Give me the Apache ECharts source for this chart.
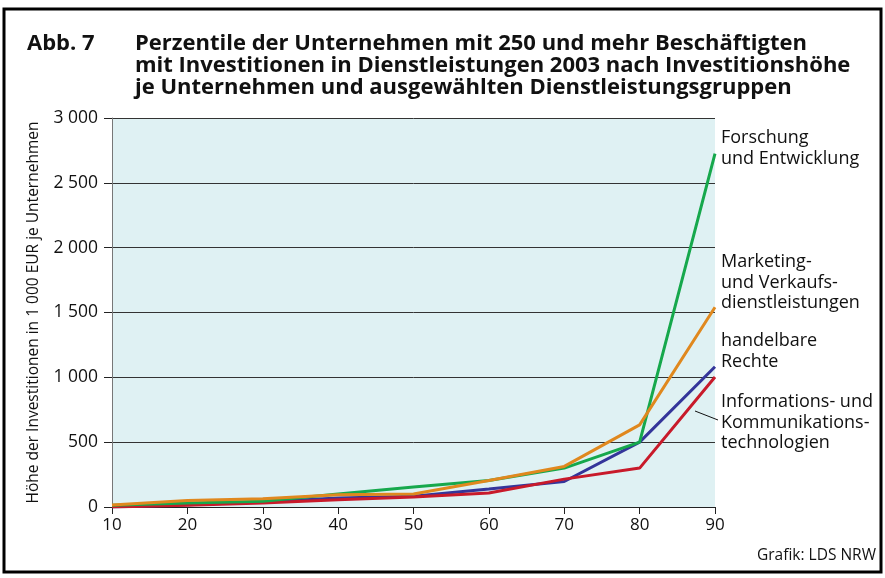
<!DOCTYPE html>
<html>
<head>
<meta charset="utf-8">
<script src="https://cdn.jsdelivr.net/npm/echarts@6/dist/echarts.min.js"></script>
<style>
  html, body { margin: 0; padding: 0; background: #fff; }
  #chart { width: 885px; height: 578px; }
</style>
</head>
<body>
<div id="chart"></div>
<script>
// Perzentile (x-Achse)
var percentiles = ["10", "20", "30", "40", "50", "60", "70", "80", "90"];
// Werte in 1 000 EUR je Unternehmen
var forschung   = [13, 30, 44, 100, 154, 205, 300, 500, 2725];
var marketing   = [15, 50, 64, 95, 100, 205, 313, 633, 1540];
var handelbare  = [0, 18, 38, 69, 82, 138, 197, 500, 1082];
var iuk         = [0, 13, 31, 56, 77, 108, 215, 300, 1003];

var seriesNames = ["handelbare Rechte", "Informations- und Kommunikationstechnologien",
                   "Forschung und Entwicklung", "Marketing- und Verkaufsdienstleistungen"];

var sans = "'Open Sans', 'Noto Sans', sans-serif";

var myChart = echarts.init(document.getElementById("chart"));

function line(name, data, color) {
  return {
    name: name,
    type: "line",
    data: data,
    symbol: "none",
    lineStyle: { width: 3, color: color },
    itemStyle: { color: color }
  };
}

var option = {
  backgroundColor: "#ffffff",
  animation: false,
  title: [
    {
      text: "Abb. 7",
      left: 22, top: 28,
      textStyle: { fontFamily: sans, fontSize: 22, fontWeight: "bold", color: "#111" }
    },
    {
      text: "Perzentile der Unternehmen mit 250 und mehr Beschäftigten\nmit Investitionen in Dienstleistungen 2003 nach Investitionshöhe\nje Unternehmen und ausgewählten Dienstleistungsgruppen",
      left: 130, top: 28,
      textStyle: { fontFamily: sans, fontSize: 22, fontWeight: "bold", color: "#111", lineHeight: 22 }
    }
  ],
  grid: { left: 112, right: 170, top: 118, bottom: 71, show: true, backgroundColor: "#dff1f3", borderWidth: 0 },
  xAxis: {
    type: "category",
    data: percentiles,
    boundaryGap: false,
    axisLine: { lineStyle: { color: "#222", width: 1 } },
    axisTick: { show: true, length: 7, lineStyle: { color: "#222" } },
    axisLabel: { color: "#111", fontFamily: sans, fontSize: 17, margin: 10 },
    splitLine: { show: false }
  },
  yAxis: {
    type: "value",
    min: 0, max: 3000, interval: 500,
    name: "Höhe der Investitionen in 1 000 EUR je Unternehmen",
    nameLocation: "middle",
    nameGap: 70,
    nameTextStyle: { fontFamily: sans, fontSize: 15.5, color: "#111" },
    axisLine: { show: true, lineStyle: { color: "#777", width: 1 } },
    axisTick: { show: true, length: 8, lineStyle: { color: "#222" } },
    axisLabel: {
      color: "#111", fontFamily: sans, fontSize: 17.5, margin: 14,
      formatter: function (v) { return v >= 1000 ? Math.floor(v / 1000) + " " + String(v % 1000).padStart(3, "0") : String(v); }
    },
    splitLine: { show: true, lineStyle: { color: "#333", width: 1 } }
  },
  series: [
    line(seriesNames[0], handelbare, "#34359a"),
    line(seriesNames[1], iuk, "#c81a2a"),
    line(seriesNames[2], forschung, "#16a84c"),
    line(seriesNames[3], marketing, "#e0881e")
  ],
  graphic: [
    { type: "rect", shape: { x: 4, y: 9, width: 877, height: 563 }, style: { fill: "none", stroke: "#000", lineWidth: 3 }, silent: true },
    { type: "text", left: 721, top: 128, style: { text: "Forschung\nund Entwicklung", font: "18px " + sans, fill: "#111", lineHeight: 20.5 } },
    { type: "text", left: 721, top: 252, style: { text: "Marketing-\nund Verkaufs-\ndienstleistungen", font: "18px " + sans, fill: "#111", lineHeight: 20.5 } },
    { type: "text", left: 721, top: 331, style: { text: "handelbare\nRechte", font: "18px " + sans, fill: "#111", lineHeight: 20.5 } },
    { type: "text", left: 721, top: 392, style: { text: "Informations- und\nKommunikations-\ntechnologien", font: "18px " + sans, fill: "#111", lineHeight: 20.5 } },
    { type: "line", shape: { x1: 695, y1: 411, x2: 718, y2: 420 }, style: { stroke: "#111", lineWidth: 1 } },
    { type: "text", right: 9, top: 548, style: { text: "Grafik: LDS NRW", font: "15.5px " + sans, fill: "#111" } }
  ]
};

myChart.setOption(option);
window.addEventListener("resize", function () { myChart.resize(); });
</script>
</body>
</html>
